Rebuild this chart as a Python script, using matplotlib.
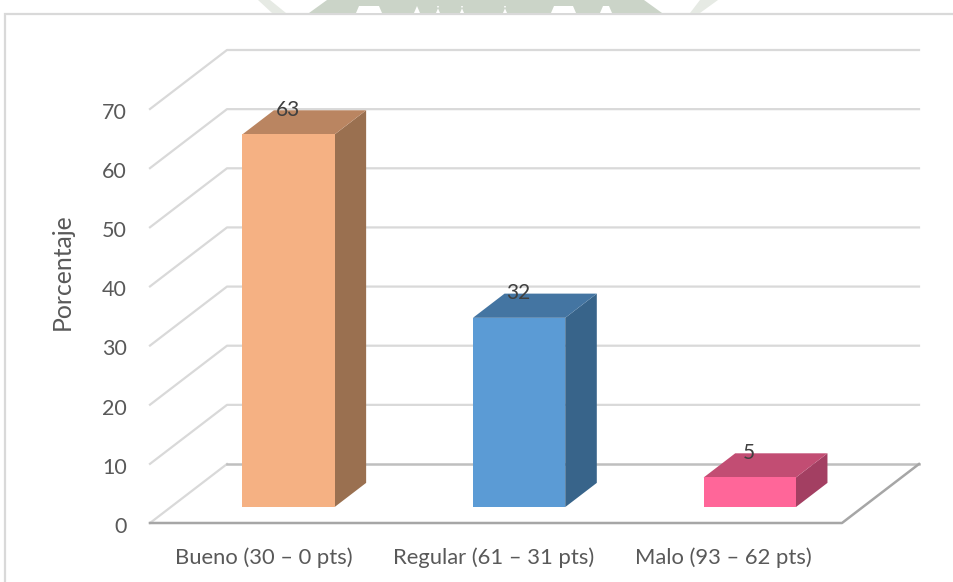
# Recreates the 3D style column chart (Porcentaje por categoria)
import matplotlib
matplotlib.use('Agg')
import matplotlib.pyplot as plt
from matplotlib.patches import Polygon, Rectangle

# Data
categories = ['Bueno (30 – 0 pts)', 'Regular (61 – 31 pts)', 'Malo (93 – 62 pts)']
values = [63, 32, 5]
ticks = [0, 10, 20, 30, 40, 50, 60, 70]
front_colors = ['#F5B183', '#5B9BD5', '#FF6699']
top_colors = ['#BA8561', '#4475A2', '#C24D73']
side_colors = ['#9A7050', '#38648A', '#A33F62']

plt.rcParams['font.family'] = ['Lato', 'DejaVu Sans']
W, H = 954, 582
fig = plt.figure(figsize=(W / 100, H / 100), dpi=100)

# Axes = front plane of the chart
left, right, bottom, top = 150, 842, 523, 109
ax = fig.add_axes([left / W, 1 - bottom / H, (right - left) / W, (bottom - top) / H])
ax.set_xlim(0, 3)
ax.set_ylim(0, 70)
ax.axis('off')

# depth of the box, in data units
dx = 77 / (right - left) * 3
dy = 59 / (bottom - top) * 70


def proj(x, y, d):
    return (x + dx * d, y + dy * d)


# Walls: gridlines on back and side
grid = '#D9D9D9'
for t in ticks[1:]:
    ax.plot(*zip(proj(0, t, 0), proj(0, t, 1), proj(3, t, 1)), color=grid, lw=1.6, clip_on=False)
ax.plot(*zip(proj(0, 0, 0), proj(0, 0, 1)), color=grid, lw=1.6, clip_on=False)
ax.plot(*zip(proj(0, 0, 1), proj(3, 0, 1)), color='#BFBFBF', lw=1.8, clip_on=False)
ax.plot(*zip(proj(3, 0, 1), proj(3, 0, 0), proj(0, 0, 0)), color='#A6A6A6', lw=1.8, clip_on=False)

# Bars
half = 0.2
d0, d1 = 0.27, 0.68
for i, v in enumerate(values):
    x0, x1 = i + 0.51 - half, i + 0.51 + half
    ax.add_patch(Polygon([proj(x1, 0, d0), proj(x1, 0, d1), proj(x1, v, d1), proj(x1, v, d0)],
                         fc=side_colors[i], ec='none', clip_on=False, zorder=3))
    ax.add_patch(Polygon([proj(x0, v, d0), proj(x1, v, d0), proj(x1, v, d1), proj(x0, v, d1)],
                         fc=top_colors[i], ec='none', clip_on=False, zorder=3))
    ax.add_patch(Polygon([proj(x0, 0, d0), proj(x1, 0, d0), proj(x1, v, d0), proj(x0, v, d0)],
                         fc=front_colors[i], ec='none', clip_on=False, zorder=4))
    lx, ly = proj(i + 0.5, v, d1)
    ax.text(lx - 0.13, ly + 0.1, str(v), ha='center', va='center', fontsize=15, color='#404040', zorder=5)

# Tick labels, axis title
for t in ticks:
    ax.text(-0.1, t - 0.65, str(t), ha='right', va='center', fontsize=15.5, color='#595959', clip_on=False)
for i, c in enumerate(categories):
    ax.text(i + 0.495 - 0.005 * i, -5.9, c, ha='center', va='center', fontsize=15.8, color='#595959', clip_on=False)
ax.text(-0.38, 42.5, 'Porcentaje', rotation=90, ha='center', va='center', fontsize=17.8, color='#595959', clip_on=False)

# Chart frame and the watermark left over behind it
fig.add_artist(Rectangle((5.5 / W, -0.01), 1.1, 1 - 14 / H + 0.01, transform=fig.transFigure,
                         fc='none', ec='#D9D9D9', lw=1.6))


def px_poly(points, color):
    fig.add_artist(Polygon([(px / W, 1 - py / H) for px, py in points], transform=fig.transFigure,
                           fc=color, ec='none'))


px_poly([(327, 0), (644, 0), (662, 13), (309, 13)], '#CBD4C8')
px_poly([(258, 0), (270, 0), (286, 13), (272, 13)], '#E6EAE4')
px_poly([(700, 0), (718, 0), (700, 13), (690, 13)], '#E6EAE4')
for x0, x1 in [(356, 382), (414, 420), (436, 440), (460, 464), (503, 507), (551, 576), (600, 612)]:
    px_poly([(x0, 13), (x0 + 3, 6), (x1 - 3, 6), (x1, 13)], '#FFFFFF')

fig.savefig('out.png', dpi=100)
